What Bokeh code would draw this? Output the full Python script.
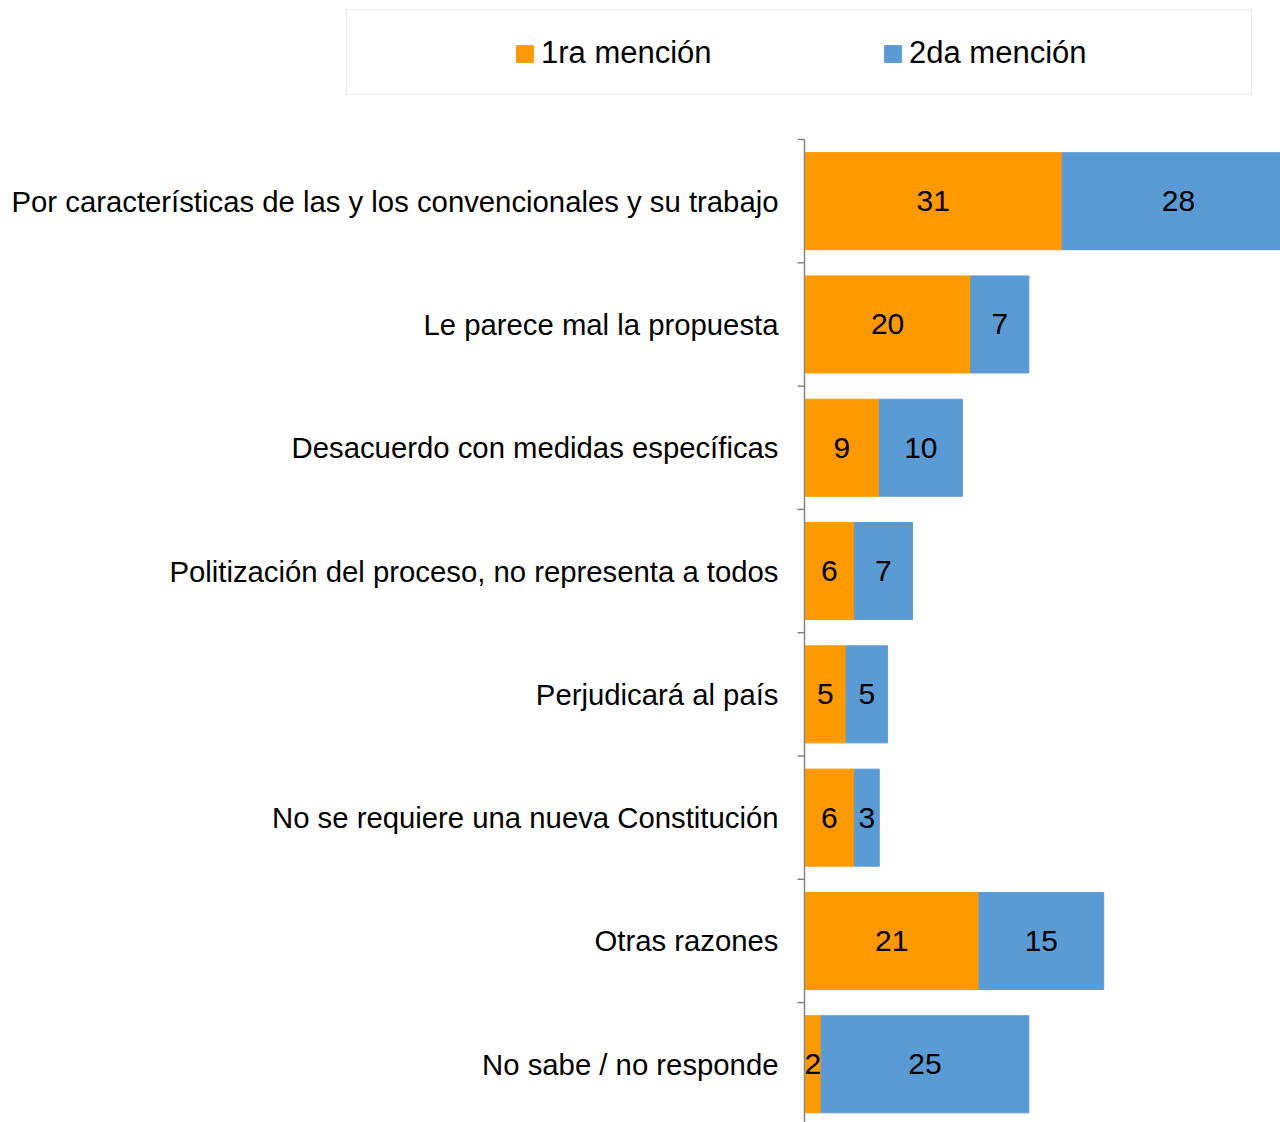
from bokeh.plotting import figure
from bokeh.models import (ColumnDataSource, Range1d, LabelSet,
                          Legend, LegendItem)
from bokeh.core.properties import value
from bokeh.embed import file_html
from bokeh.resources import INLINE

# ---- data ----
categories = [
    "Por características de las y los convencionales y su trabajo",
    "Le parece mal la propuesta",
    "Desacuerdo con medidas específicas",
    "Politización del proceso, no representa a todos",
    "Perjudicará al país",
    "No se requiere una nueva Constitución",
    "Otras razones",
    "No sabe / no responde",
]
primera = [31, 20, 9, 6, 5, 6, 21, 2]
segunda = [28, 7, 10, 7, 5, 3, 15, 25]
series_names = ["1ra mención", "2da mención"]

# ---- styles / geometry ----
ORANGE = "#FF9900"
BLUE = "#5B9BD5"
AXIS_GRAY = "#868686"
FONT = "Liberation Sans"
W, H = 1280, 1122
AXIS_X = 804          # pixel position of the value axis
AXIS_TOP = 139        # pixel position of the first category boundary
PX_PER_UNIT = 8.31
BAND_PX = 123.3
TICK_PX = 7

n = len(categories)
centers = [i + 0.5 for i in range(n)]
bounds = list(range(n + 1))
ends = [a + b for a, b in zip(primera, segunda)]
mid1 = [a / 2 for a in primera]
mid2 = [a + b / 2 for a, b in zip(primera, segunda)]

src = ColumnDataSource(dict(
    y=centers, cat=categories, zero=[0] * n,
    p1=primera, p2=segunda, end=ends, mid1=mid1, mid2=mid2,
    t1=[str(v) for v in primera], t2=[str(v) for v in segunda],
))
tick_src = ColumnDataSource(dict(
    y=bounds, x0=[0] * (n + 1), x1=[-TICK_PX / PX_PER_UNIT] * (n + 1)))

x_range = Range1d(-AXIS_X / PX_PER_UNIT, (W - AXIS_X) / PX_PER_UNIT)
y_range = Range1d((H - AXIS_TOP) / BAND_PX, -AXIS_TOP / BAND_PX)

p = figure(width=W, height=H, x_range=x_range, y_range=y_range,
           x_axis_location=None, y_axis_location=None,
           output_backend="svg", toolbar_location=None,
           min_border_left=0, min_border_right=0,
           min_border_top=0, min_border_bottom=0)
p.outline_line_color = None
p.xgrid.grid_line_color = None
p.ygrid.grid_line_color = None

r1 = p.hbar(y="y", left=0, right="p1", height=0.787, color=ORANGE, source=src)
r2 = p.hbar(y="y", left="p1", right="end", height=0.787, color=BLUE, source=src)

# category axis: line, boundary ticks and labels
p.segment(x0=[0], y0=[0], x1=[0], y1=[n], line_color=AXIS_GRAY, line_width=1.5)
p.segment(x0="x0", y0="y", x1="x1", y1="y", source=tick_src,
          line_color=AXIS_GRAY, line_width=1.5)
p.add_layout(LabelSet(x="zero", y="y", text="cat", source=src,
                      x_offset=-26, text_align="right", text_baseline="middle",
                      text_font=value(FONT), text_font_size="29.3px",
                      text_color="black"))

# value labels
for xcol, tcol in (("mid1", "t1"), ("mid2", "t2")):
    p.add_layout(LabelSet(x=xcol, y="y", text=tcol, source=src,
                          text_align="center", text_baseline="middle",
                          text_font=value(FONT), text_font_size="30px",
                          text_color="black"))

# legend frame (empty item used only for the outlined box)
dummy = p.hbar(y=[], right=[], height=0.1, fill_alpha=0, line_alpha=0)
box = Legend(items=[LegendItem(label=" ", renderers=[dummy])],
             location=(346, H - 95), padding=0, margin=0,
             glyph_width=17, glyph_height=84, label_standoff=0,
             label_width=887, label_height=84,
             border_line_color="#D9D9D9", border_line_width=1.5,
             background_fill_color="white", background_fill_alpha=1.0)
p.add_layout(box, "center")

leg = Legend(items=[LegendItem(label=series_names[0], renderers=[r1]),
                    LegendItem(label=series_names[1], renderers=[r2])],
             orientation="horizontal", location=(514, H - 73),
             padding=0, margin=0, spacing=168,
             glyph_width=21, glyph_height=21, label_standoff=6,
             label_width=173, label_height=40,
             label_text_font=FONT, label_text_font_size="31px",
             label_text_color="black",
             border_line_color=None, background_fill_alpha=0)
p.add_layout(leg, "center")

open("out.html", "w").write(file_html(p, INLINE))
